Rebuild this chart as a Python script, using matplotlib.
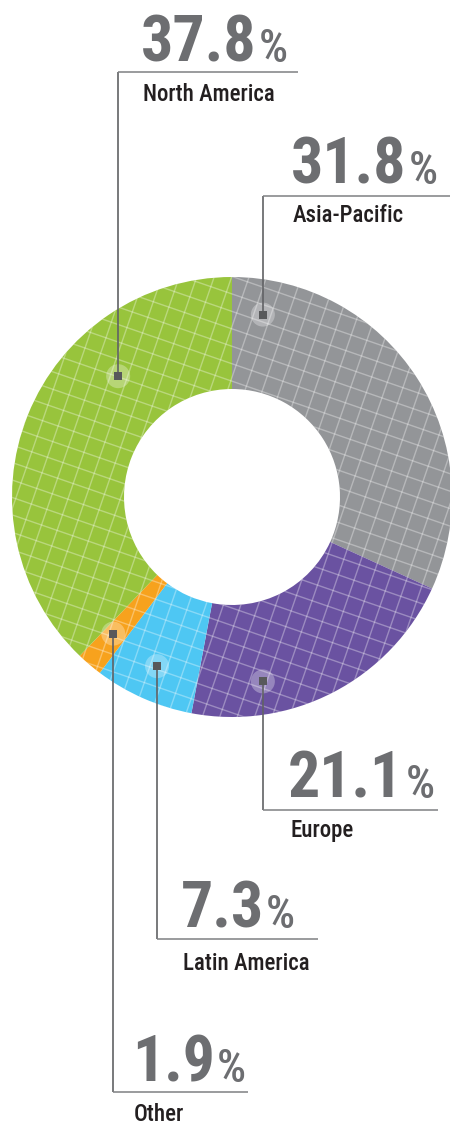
import numpy as np
import matplotlib
matplotlib.use("Agg")
import matplotlib.pyplot as plt
from matplotlib import font_manager
from matplotlib.collections import LineCollection
from matplotlib.patches import Circle

regions = ["Asia-Pacific", "Europe", "Latin America", "Other", "North America"]
shares = [31.8, 21.1, 7.3, 1.9, 37.8]
colors = ["#939598", "#6a52a1", "#4ec7f3", "#f7a21d", "#98c43c"]

W, H = 450, 1124
cx, cy = 232, H - 497
r_out, r_in = 220, 108

# marker (deg clockwise from top, radius) + label layout in image y coords
# (angle, radius, label_x, line_y, line_x_end, num_baseline, name_baseline, num_w, name_w)
layout = {
    "Asia-Pacific":  (9.6, 185, 291, 196, 450, 184, 222, 149, 114),
    "Europe":        (170.5, 187, 288, 810, 438, 798, 837, 149, 67),
    "Latin America": (203.9, 185, 181, 939, 318, 928, 970, 113, 131),
    "Other":         (221.0, 181, 132, 1092, 248, 1082, 1121, 114, 53),
    "North America": (316.7, 166, 141, 72, 298, 62, 101, 143, 134),
}


def pick_condensed():
    # look for a narrow sans among the installed fonts
    ents = font_manager.fontManager.ttflist
    names = {e.name for e in ents}
    for fam in ["Liberation Sans Narrow", "Roboto Condensed", "Noto Sans Condensed",
                "Open Sans Condensed", "Arial Narrow"]:
        if fam in names:
            return fam, "normal"
    for e in ents:
        if e.name == "DejaVu Sans" and str(e.stretch) in ("condensed", "semi-condensed"):
            return "DejaVu Sans", "condensed"
    for e in ents:
        n = e.name.lower()
        if ("condensed" in n or "narrow" in n) and "mono" not in n and "serif" not in n:
            return e.name, "normal"
    return "DejaVu Sans", "normal"


cfam, cstretch = pick_condensed()
fam = [cfam, "DejaVu Sans"]

fig = plt.figure(figsize=(W / 100, H / 100), dpi=100)
ax = fig.add_axes([0, 0, 1, 1])

wedges, _ = ax.pie(shares, colors=colors, radius=r_out, center=(cx, cy),
                   startangle=90, counterclock=False, normalize=True,
                   wedgeprops=dict(width=r_out - r_in, linewidth=0))
ax.set_xlim(0, W)
ax.set_ylim(0, H)
ax.set_aspect("equal")
ax.axis("off")

# tilted grid texture on every slice
th = np.deg2rad(19)
u = np.array([np.cos(th), -np.sin(th)])
v = np.array([np.sin(th), np.cos(th)])
step = 16.5
offs = np.arange(-270, 271, step)
c0 = np.array([cx, cy])
segs = []
for t in offs:
    segs.append([c0 + t * v - 270 * u, c0 + t * v + 270 * u])
    segs.append([c0 + t * u - 270 * v, c0 + t * u + 270 * v])
for w in wedges:
    lc = LineCollection(segs, colors="white", linewidths=1.0, alpha=0.33)
    ax.add_collection(lc)
    lc.set_clip_path(w)

fig.canvas.draw()
renderer = fig.canvas.get_renderer()

NUM_FS, PCT_FS, LAB_FS = 46, 33, 16.5

for name, val in zip(regions, shares):
    ang, rad, lx, ly, lx2, nb, tb, nw, tw = layout[name]
    a = np.deg2rad(ang)
    mx = cx + rad * np.sin(a)
    my = cy + rad * np.cos(a)
    ly = H - ly
    ax.add_patch(Circle((mx, my), 12, color="white", alpha=0.3, lw=0))
    ax.plot([mx, mx], [my, ly], color="#616265", lw=1.2, solid_capstyle="butt")
    ax.plot([mx, lx2], [ly, ly], color="#7f8083", lw=1.1, solid_capstyle="butt")
    ax.plot(mx, my, marker="s", ms=5.5, color="#58595b", mew=0)

    num = ax.text(lx, H - nb, f"{val:.1f}", family=fam, fontweight="heavy",
                  fontstretch=cstretch, fontsize=NUM_FS, color="#6d6e71",
                  ha="left", va="baseline")
    pct = ax.text(lx, H - nb, "%", family=fam, fontweight="medium",
                  fontstretch=cstretch, fontsize=PCT_FS, color="#6d6e71",
                  ha="left", va="baseline")
    b1 = num.get_window_extent(renderer)
    b2 = pct.get_window_extent(renderer)
    total = b1.width + 2 + b2.width
    if total > nw * 1.08:
        k = nw / total
        num.set_fontsize(NUM_FS * k)
        pct.set_fontsize(PCT_FS * k)
        b1 = num.get_window_extent(renderer)
    pct.set_x(b1.x1 + 2)

    lab = ax.text(lx + 2, H - tb, name, family=fam, fontweight="medium",
                  fontstretch=cstretch, fontsize=LAB_FS, color="#231f20",
                  ha="left", va="baseline")
    bl = lab.get_window_extent(renderer)
    if bl.width > tw * 1.08:
        lab.set_fontsize(LAB_FS * tw / bl.width)

fig.savefig("out.png", dpi=100)
